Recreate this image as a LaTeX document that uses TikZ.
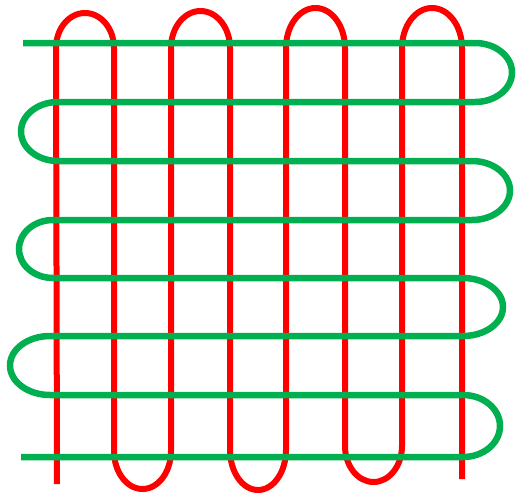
\documentclass[tikz,border=0pt]{standalone}
\usepackage{tikz}
\definecolor{wred}{RGB}{255,0,0}
\definecolor{wgreen}{RGB}{0,176,80}
\tikzset{
  redline/.style={draw=wred, line width=6pt},
  greenline/.style={draw=wgreen, line width=6.5pt}
}
\begin{document}
\begin{tikzpicture}[x=1pt,y=-1pt]
\useasboundingbox[fill=white] (0,0) rectangle (520,496);
% red serpentine (vertical)
\path[redline] (57,484) -- (56,48)
  arc[start angle=180,end angle=0,x radius=29pt,y radius=35pt] -- (114,451)
  arc[start angle=180,end angle=360,x radius=28.5pt,y radius=38pt] -- (171,48)
  arc[start angle=180,end angle=0,x radius=29.5pt,y radius=37pt] -- (230,450)
  arc[start angle=180,end angle=360,x radius=28pt,y radius=40pt] -- (286,48)
  arc[start angle=180,end angle=0,x radius=29.5pt,y radius=40pt] -- (345,446)
  arc[start angle=180,end angle=360,x radius=28.5pt,y radius=36pt] -- (402,48)
  arc[start angle=180,end angle=0,x radius=30pt,y radius=40pt] -- (462,479);
% green serpentine (horizontal)
\path[greenline] (23,43) -- (475,43)
  arc[start angle=90,end angle=-90,x radius=37pt,y radius=29.5pt] -- (58,102)
  arc[start angle=90,end angle=270,x radius=37pt,y radius=29.5pt] -- (472,161)
  arc[start angle=90,end angle=-90,x radius=38pt,y radius=29.5pt] -- (53,220)
  arc[start angle=90,end angle=270,x radius=34pt,y radius=29pt] -- (463,278)
  arc[start angle=90,end angle=-90,x radius=40pt,y radius=29pt] -- (50,336)
  arc[start angle=90,end angle=270,x radius=40pt,y radius=29.5pt] -- (463,395)
  arc[start angle=90,end angle=-90,x radius=37pt,y radius=31pt] -- (21,457);
\end{tikzpicture}
\end{document}
